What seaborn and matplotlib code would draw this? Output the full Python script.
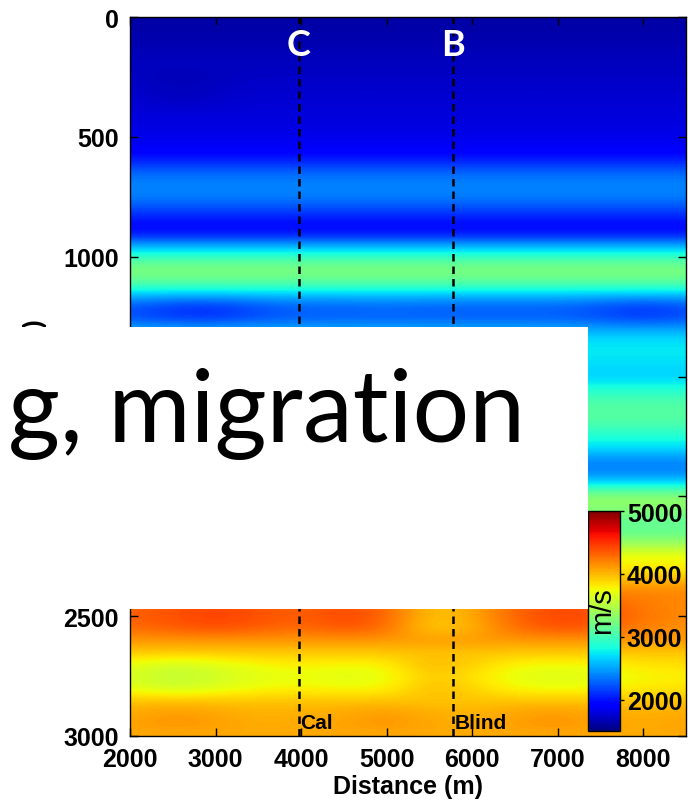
import numpy as np
import matplotlib
matplotlib.use("Agg")
import matplotlib.pyplot as plt
from matplotlib.patches import Rectangle
import seaborn as sns

# ---- velocity model nodes ----
distance_nodes = [2000, 2500, 3000, 3500, 4000, 4500, 5000,
                  5500, 6000, 6500, 7000, 7500, 8000, 8500]
depth_nodes = list(range(0, 3001, 50))

# interval velocity (m/s) down the section, one value per depth node
velocity_profile = [
    1620, 1630, 1650, 1680, 1700, 1720, 1740, 1760, 1780, 1800,   # 0-450
    1830, 1880, 2050, 2300, 2400, 2380, 2200, 1980, 1950, 2500,   # 500-950
    2950, 3280, 3150, 2700, 2300, 2250, 2500, 2720, 2750, 2700,   # 1000-1450
    2650, 2850, 3050, 3100, 3050, 2850, 2700, 2400, 2380, 2750,   # 1500-1950
    3350, 3300, 3150, 3150, 3400, 3750, 3800, 4000, 4200, 4300,   # 2000-2450
    4330, 4280, 4120, 3950, 3800, 3720, 3780, 3950, 4050, 4080,   # 2500-2950
    4050,                                                         # 3000
]

# lateral velocity departures (m/s) along distance, for selected depth bands
lateral_300 = [0, -60, -30, 0, 0, 0, 0, 0, 0, 0, 0, 0, 0, 0]
lateral_1250 = [-40, -150, -170, -60, 0, 0, 20, 0, 0, 0, 0, -60, -150, -60]
lateral_2500 = [0, 60, 120, 60, 0, 100, 0, -380, -280, 0, 100, 60, -80, -150]
lateral_2750 = [-80, -200, -120, -40, 0, -40, -20, 220, 120, -30, -60, -30, 40, 60]
lateral_2900 = [0, 60, 20, -40, -20, 0, 60, -20, -40, 20, 60, 0, -30, 0]

lateral_bands = {
    250: lateral_300, 300: lateral_300, 350: lateral_300,
    1200: lateral_1250, 1250: lateral_1250,
    2450: lateral_2500, 2500: lateral_2500, 2550: lateral_2500,
    2700: lateral_2750, 2750: lateral_2750, 2800: lateral_2750,
    2900: lateral_2900, 2950: lateral_2900,
}

# wells
well_x = [3970, 5780]
well_top_labels = ["C", "B"]
well_bottom_labels = ["Cal", "Blind"]

x_ticks = [2000, 3000, 4000, 5000, 6000, 7000, 8000]
y_ticks = [0, 500, 1000, 1500, 2000, 2500, 3000]
cbar_ticks = [2000, 3000, 4000, 5000]
v_min, v_max = 1500, 5000

overlay_text = "g, migration"

# ---- build model grid ----
model = np.repeat(np.array(velocity_profile, dtype=float)[:, None],
                  len(distance_nodes), axis=1)
for depth, row in lateral_bands.items():
    model[depth_nodes.index(depth)] += np.array(row, dtype=float)

sns.set_style("ticks")
plt.rcParams["font.family"] = ["Liberation Sans", "DejaVu Sans"]
plt.rcParams["text.color"] = "black"
plt.rcParams["axes.labelcolor"] = "black"
jet = matplotlib.colormaps["jet"]

fig = plt.figure(figsize=(7.0, 8.03), dpi=100)
ax = fig.add_axes([130 / 700, 1 - 737 / 803, 556 / 700, 719 / 803])

dx = distance_nodes[1] - distance_nodes[0]
dz = depth_nodes[1] - depth_nodes[0]
im = ax.imshow(model, cmap=jet, vmin=v_min, vmax=v_max, aspect="auto",
               interpolation="bicubic",
               extent=[distance_nodes[0] - dx / 2, distance_nodes[-1] + dx / 2,
                       depth_nodes[-1] + dz / 2, depth_nodes[0] - dz / 2])
ax.set_xlim(2000, 8500)
ax.set_ylim(3000, 0)

for x, top, bottom in zip(well_x, well_top_labels, well_bottom_labels):
    ax.axvline(x, color="black", lw=1.8, ls=(0, (3, 2)), zorder=3)
    ax.text(x, 115, top, color="white", fontsize=26, fontweight="bold",
            family=["Lato", "DejaVu Sans"], ha="center", va="center", zorder=4)
    ax.text(x + 20, 2985, bottom, color="black", fontsize=15,
            fontweight="bold", ha="left", va="bottom", zorder=4)

ax.set_xticks(x_ticks)
ax.set_yticks(y_ticks)
ax.tick_params(direction="in", length=6, width=1, top=True, right=True,
               labelsize=18, pad=8, colors="black")
for lab in ax.get_xticklabels() + ax.get_yticklabels():
    lab.set_fontweight("bold")
for sp in ax.spines.values():
    sp.set_linewidth(1.0)
    sp.set_color("black")

ax.set_xlabel("Distance (m)", fontsize=18, fontweight="bold", labelpad=2,
              color="black")
ax.set_ylabel("Depth (m)", fontsize=18, fontweight="bold", color="black")
ax.yaxis.set_label_coords(-0.15, 0.5)

# colour bar placed inside the section
cax = fig.add_axes([588 / 700, 1 - 732 / 803, 32 / 700, 220 / 803])
cb = fig.colorbar(im, cax=cax, ticks=cbar_ticks)
cb.outline.set_linewidth(1.0)
cb.outline.set_edgecolor("black")
cax.tick_params(direction="out", length=3, width=1, labelsize=18, pad=2,
                colors="black")
for lab in cax.get_yticklabels():
    lab.set_fontweight("bold")
cax.text(0.45, 0.55, "m/s", rotation=90, fontsize=21, ha="center",
         va="center", transform=cax.transAxes, color="black")

# white text panel over the section
panel = Rectangle((0, 1 - 610 / 803), 588 / 700, 282 / 803,
                  transform=fig.transFigure, facecolor="white",
                  edgecolor="none", zorder=20)
fig.add_artist(panel)
fig.text(8 / 700, 1 - 442 / 803, overlay_text, fontsize=72,
         family=["Lato", "DejaVu Sans"], color="black", ha="left",
         va="baseline", zorder=21)

fig.savefig("out.png", dpi=100)
